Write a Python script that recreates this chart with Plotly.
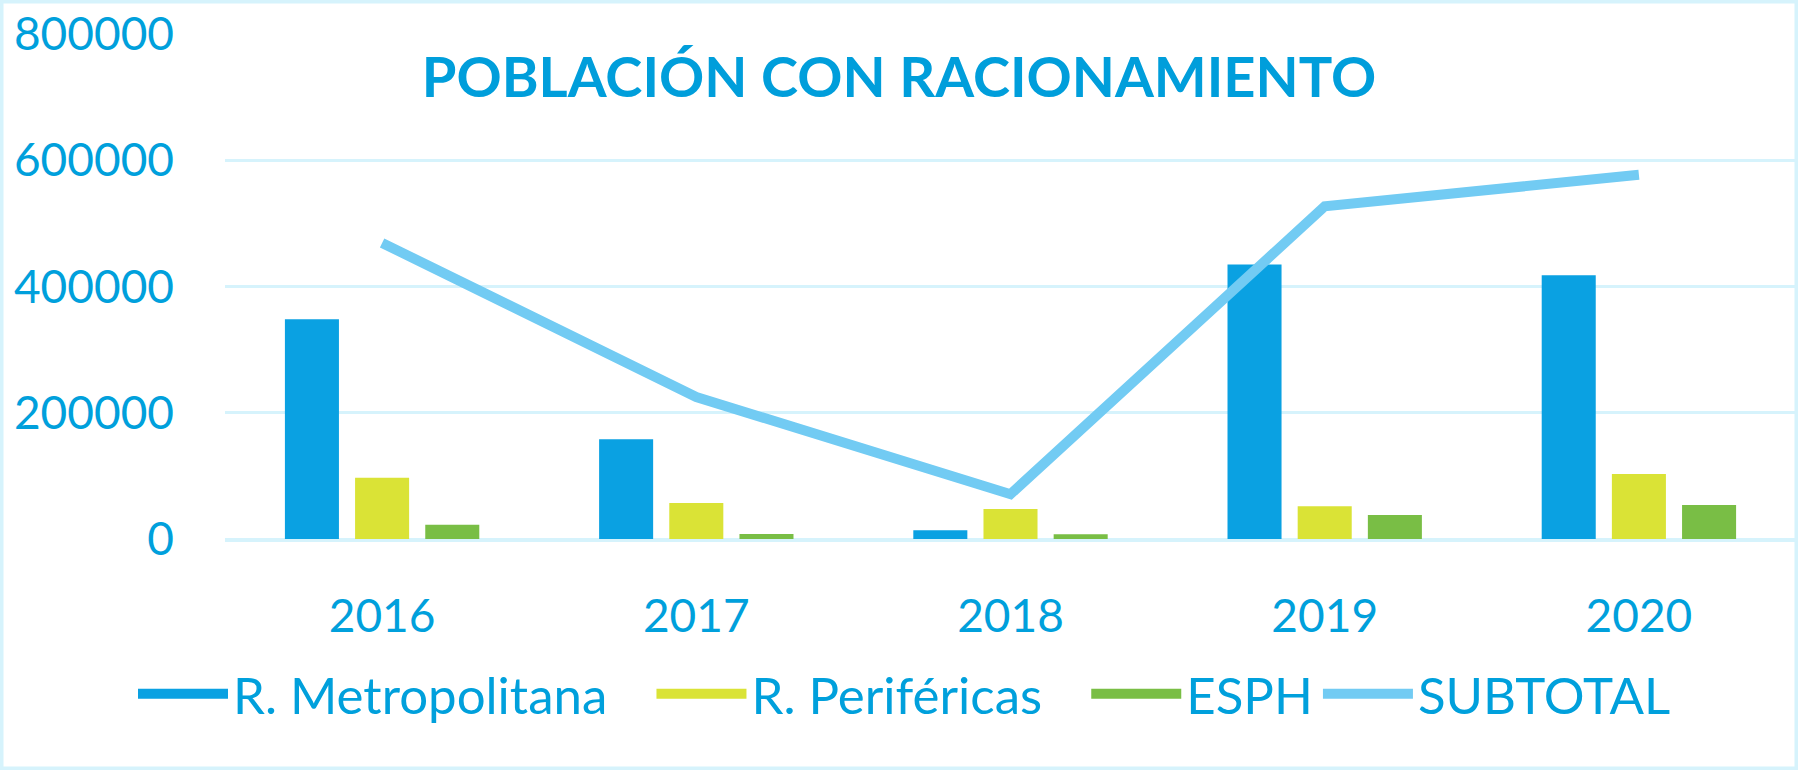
import plotly.graph_objects as go

years = ["2016", "2017", "2018", "2019", "2020"]
metropolitana = [348000, 158000, 14000, 435000, 418000]
perifericas = [97000, 57000, 47500, 52000, 103000]
esph = [22500, 8000, 7500, 38000, 54000]
subtotal = [469000, 225000, 71000, 527000, 577000]
y_ticks = [0, 200000, 400000, 600000, 800000]

W, H = 1798, 770
ml, mr, mt, mb = 225, 2, 34, 231
pw, ph = W - ml - mr, H - mt - mb

text_color = "#00a0dc"
grid_color = "#d6f3fc"
font_family = "Lato, 'Open Sans', sans-serif"
colors = {"R. Metropolitana": "#0aa1e2", "R. Periféricas": "#dae336", "ESPH": "#79be45"}
legend_pad = {"R. Metropolitana": 3, "R. Periféricas": 3, "ESPH": 0}

fig = go.Figure()
for name, vals in [("R. Metropolitana", metropolitana), ("R. Periféricas", perifericas), ("ESPH", esph)]:
    fig.add_trace(go.Bar(name=name, x=years, y=vals, legendgroup=name, showlegend=False,
                         marker=dict(color=colors[name], line=dict(width=0))))
fig.add_trace(go.Scatter(name="SUBTOTAL", x=years, y=subtotal, mode="lines", showlegend=False,
                         legendgroup="SUBTOTAL", line=dict(color="#72cbf3", width=10)))

# legend entries for the same series, drawn as wide swatches
for name in ["R. Metropolitana", "R. Periféricas", "ESPH"]:
    fig.add_trace(go.Scatter(name=name + "\u00a0" * legend_pad[name], x=[None], y=[None],
                             mode="lines", legendgroup=name,
                             line=dict(color=colors[name], width=31)))
fig.add_trace(go.Scatter(name="SUBTOTAL", x=[None], y=[None], mode="lines", legendgroup="SUBTOTAL",
                         line=dict(color="#72cbf3", width=10)))

fig.update_layout(
    width=W, height=H,
    margin=dict(l=ml, r=mr, t=mt, b=mb, pad=0, autoexpand=False),
    paper_bgcolor="white", plot_bgcolor="white",
    barmode="group", bargap=0.33, bargroupgap=0.23,
    font=dict(family=font_family, color=text_color, size=46),
    title=dict(text="<b>POBLACIÓN CON RACIONAMIENTO</b>",
               font=dict(family=font_family, size=56, color="#009edb"),
               x=0.5, xref="container", xanchor="center",
               y=1 - 77 / H, yref="container", yanchor="middle"),
    showlegend=True,
    legend=dict(orientation="h", x=(133 - ml) / pw, xanchor="left",
                y=(H - mb - 694) / ph, yanchor="middle", itemwidth=90,
                font=dict(size=51, color=text_color, family=font_family),
                bgcolor="rgba(0,0,0,0)", traceorder="normal"),
    xaxis=dict(showgrid=False, showline=True, linecolor=grid_color, linewidth=3,
               ticks="", tickfont=dict(size=46, color=text_color), ticklabelstandoff=35),
    yaxis=dict(range=[0, 800000], tickvals=y_ticks, ticktext=[str(v) for v in y_ticks],
               showgrid=True, gridcolor=grid_color, gridwidth=3,
               zeroline=True, zerolinecolor=grid_color, zerolinewidth=3,
               showline=False, ticks="", tickfont=dict(size=46, color=text_color),
               ticklabelstandoff=50),
)

# light-blue border around the whole chart area
fig.add_shape(type="rect", xref="paper", yref="paper",
              x0=-ml / pw, x1=1 + mr / pw, y0=-mb / ph, y1=1 + mt / ph,
              line=dict(color=grid_color, width=7), fillcolor="rgba(0,0,0,0)", layer="below")

fig.write_html("out.html")
